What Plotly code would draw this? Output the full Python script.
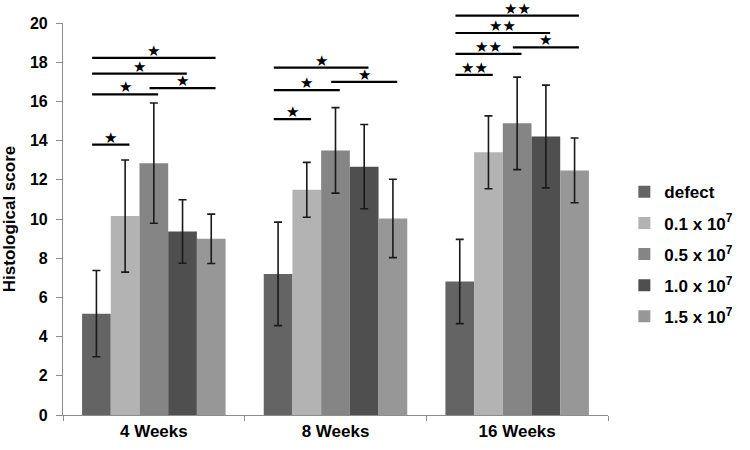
import plotly.graph_objects as go

weeks = ["4 Weeks", "8 Weeks", "16 Weeks"]
series_names = ["defect", "0.1 x 10<sup>7</sup>", "0.5 x 10<sup>7</sup>", "1.0 x 10<sup>7</sup>", "1.5 x 10<sup>7</sup>"]

defect = [5.17, 7.20, 6.81]
d01 = [10.15, 11.49, 13.40]
d05 = [12.85, 13.50, 14.88]
d10 = [9.36, 12.67, 14.21]
d15 = [8.99, 10.03, 12.48]

err_defect = [2.2, 2.64, 2.15]
err_01 = [2.86, 1.40, 1.86]
err_05 = [3.07, 2.18, 2.36]
err_10 = [1.62, 2.15, 2.62]
err_15 = [1.26, 2.00, 1.65]

# significance comparisons: (week index, bar i, bar j, bracket level, label)
comparisons = [
    (0, 0, 1, 13.79, "★"),
    (0, 0, 2, 16.36, "★"),
    (0, 2, 4, 16.68, "★"),
    (0, 0, 3, 17.42, "★"),
    (0, 0, 4, 18.22, "★"),
    (1, 0, 1, 15.10, "★"),
    (1, 0, 2, 16.58, "★"),
    (1, 2, 4, 17.00, "★"),
    (1, 0, 3, 17.72, "★"),
    (2, 0, 1, 17.35, "★★"),
    (2, 0, 2, 18.42, "★★"),
    (2, 2, 4, 18.76, "★"),
    (2, 0, 3, 19.49, "★★"),
    (2, 0, 4, 20.38, "★★"),
]

values = [defect, d01, d05, d10, d15]
errors = [err_defect, err_01, err_05, err_10, err_15]
colors = ["#646464", "#b3b3b3", "#858585", "#4f4f4f", "#979797"]

YMAX = 20
BARGAP = 0.21
NB = len(values)
bw = (1 - BARGAP) / NB

fig = go.Figure()
for k in range(NB):
    fig.add_trace(go.Bar(
        x=weeks, y=values[k], name=series_names[k],
        marker=dict(color=colors[k], line=dict(width=0)),
        error_y=dict(type="data", array=errors[k], visible=True,
                     color="#1a1a1a", thickness=1.6, width=4),
        legendgroup=str(k),
    ))

def bar_center(g, k):
    return g - (1 - BARGAP) / 2 + (k + 0.5) * bw

shapes = []
annotations = []
for g, i, j, lvl, lab in comparisons:
    x0 = bar_center(g, i) - 0.15 * bw
    x1 = bar_center(g, j) + 0.15 * bw
    yp = lvl / YMAX
    shapes.append(dict(type="line", xref="x", yref="paper", x0=x0, x1=x1, y0=yp, y1=yp,
                       line=dict(color="black", width=2.2)))
    annotations.append(dict(xref="x", yref="paper", x=(x0 + x1) / 2, y=yp, text=lab,
                            showarrow=False, yanchor="bottom", yshift=-4,
                            font=dict(size=15, color="black", family="DejaVu Sans")))

fig.update_layout(
    width=750, height=450,
    margin=dict(l=63, r=132, t=23, b=35),
    paper_bgcolor="white", plot_bgcolor="white",
    barmode="group", bargap=BARGAP, bargroupgap=0,
    font=dict(family="Liberation Sans, Arial", color="black"),
    shapes=shapes, annotations=annotations,
    showlegend=True,
    legend=dict(x=1.03, y=0.41, xanchor="left", yanchor="middle",
                font=dict(size=17, family="Liberation Sans, Arial", weight="bold"),
                tracegroupgap=6, bgcolor="rgba(0,0,0,0)"),
    xaxis=dict(showline=True, linecolor="#8c8c8c", linewidth=1.2, automargin=False,
               ticks="outside", tickson="boundaries", ticklen=5, tickcolor="#8c8c8c",
               tickfont=dict(size=17, family="Liberation Sans, Arial", weight="bold")),
    yaxis=dict(range=[0, YMAX], dtick=2, showgrid=False, zeroline=False, automargin=False,
               showline=True, linecolor="#8c8c8c", linewidth=1.2,
               ticks="outside", ticklen=6, tickcolor="#8c8c8c", ticklabelstandoff=5,
               tickfont=dict(size=16, family="Liberation Sans, Arial", weight="bold"),
               title=dict(text="Histological score", standoff=17,
                          font=dict(size=17, family="Liberation Sans, Arial", weight="bold"))),
)

fig.write_html("out.html", config={"displayModeBar": False},
               post_script="document.body.style.margin='0';")
